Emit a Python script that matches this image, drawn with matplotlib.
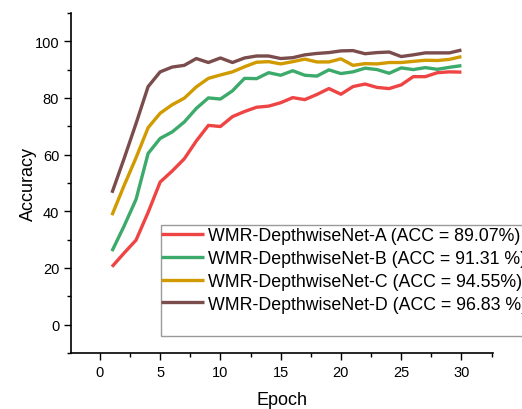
import numpy as np
import matplotlib.pyplot as plt
from matplotlib.patches import Rectangle
from matplotlib.ticker import MultipleLocator

plt.rcParams['font.family'] = ['Liberation Sans', 'DejaVu Sans']

epochs = np.arange(1, 31)
acc_a = [20.4, 25.2, 29.8, 39.6, 50.3, 54.2, 58.5, 64.8, 70.3, 69.9,
         73.4, 75.2, 76.7, 77.1, 78.3, 80.1, 79.4, 81.2, 83.3, 81.3,
         84.0, 84.9, 83.7, 83.3, 84.6, 87.5, 87.5, 88.9, 89.2, 89.1]
acc_b = [25.9, 34.7, 44.2, 60.4, 65.7, 68.0, 71.5, 76.3, 80.0, 79.6,
         82.5, 86.9, 86.8, 88.9, 88.0, 89.6, 88.0, 87.7, 89.9, 88.6,
         89.2, 90.5, 90.0, 88.7, 90.6, 90.0, 90.7, 90.1, 90.8, 91.4]
acc_c = [38.6, 49.0, 58.9, 69.5, 74.6, 77.6, 79.9, 83.9, 86.9, 88.1,
         89.2, 91.0, 92.6, 92.8, 92.0, 92.8, 93.7, 92.7, 92.7, 93.8,
         91.5, 92.1, 92.0, 92.5, 92.5, 92.9, 93.3, 93.2, 93.6, 94.6]
acc_d = [46.5, 58.5, 71.0, 84.0, 89.2, 90.9, 91.5, 93.9, 92.5, 94.1,
         92.5, 94.1, 94.8, 94.8, 93.9, 94.2, 95.2, 95.7, 96.0, 96.6,
         96.7, 95.6, 96.0, 96.2, 94.6, 95.2, 95.9, 95.9, 95.9, 96.9]
labels = ['WMR-DepthwiseNet-A (ACC = 89.07%)',
          'WMR-DepthwiseNet-B (ACC = 91.31 %)',
          'WMR-DepthwiseNet-C (ACC = 94.55%)',
          'WMR-DepthwiseNet-D (ACC = 96.83 %)']
colors = ['#EF4444', '#3CAA6A', '#D09A00', '#7A4C4C']

fig = plt.figure(figsize=(5.22, 4.10), dpi=100)
ax = fig.add_axes([0.136, 0.137, 0.808, 0.829])

for ys, lab, c in zip([acc_a, acc_b, acc_c, acc_d], labels, colors):
    ax.plot(epochs, ys, color=c, lw=2.4, label=lab, solid_capstyle='butt')

ax.set_xlim(-2.4, 32.6)
ax.set_ylim(-10, 110)
ax.xaxis.set_major_locator(MultipleLocator(5))
ax.xaxis.set_minor_locator(MultipleLocator(2.5))
ax.yaxis.set_major_locator(MultipleLocator(20))
ax.yaxis.set_minor_locator(MultipleLocator(10))
ax.tick_params(which='major', direction='out', length=5, width=1, labelsize=10.5)
ax.tick_params(which='minor', direction='out', length=3, width=1)
ax.spines['top'].set_visible(False)
ax.spines['right'].set_visible(False)
ax.spines['left'].set_linewidth(1.2)
ax.spines['bottom'].set_linewidth(1.2)
ax.set_xlabel('Epoch', fontsize=13, labelpad=9)
ax.set_ylabel('Accuracy', fontsize=13, labelpad=-2)

# legend frame (box is taller than the entries)
fig.patches.append(Rectangle((161 / 522, 1 - 337 / 410), 0.8, 111 / 410,
                             transform=fig.transFigure, fill=True,
                             facecolor='white', edgecolor='#9a9a9a', lw=1, zorder=3))
leg = fig.legend(loc='upper left', bbox_to_anchor=(154 / 522, 1 - 221 / 410),
                 frameon=False, fontsize=12.8, handlelength=2.4,
                 handletextpad=0.25, labelspacing=0.33, borderaxespad=0)
leg.set_zorder(4)

fig.savefig('out.png', dpi=100)
